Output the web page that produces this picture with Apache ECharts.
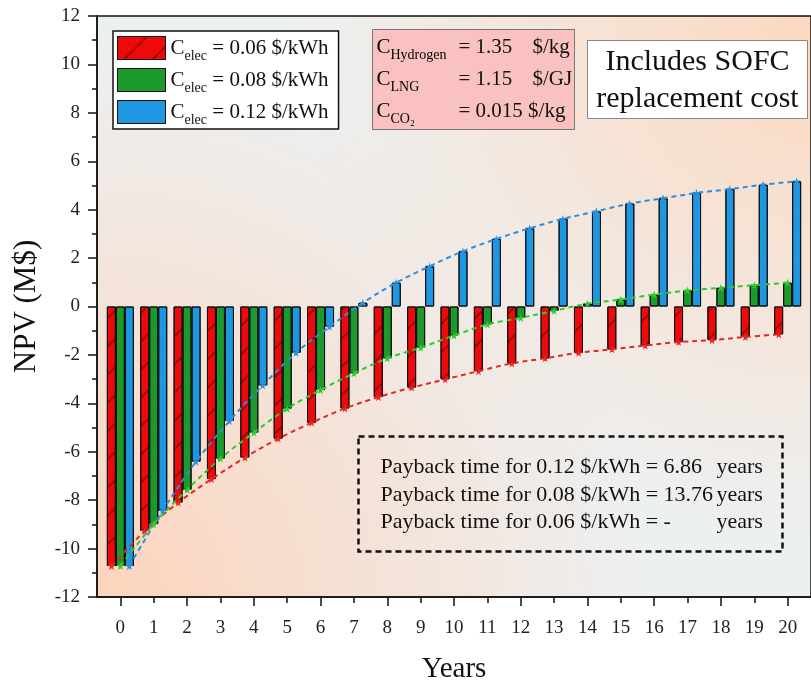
<!DOCTYPE html>
<html>
<head>
<meta charset="utf-8">
<script src="https://cdn.jsdelivr.net/npm/echarts@6/dist/echarts.min.js"></script>
<style>
  html, body { margin: 0; padding: 0; background: #fff; }
  #main { width: 811px; height: 689px; }
</style>
</head>
<body>
<div id="main"></div>
<script>
// 数据
const years = [0, 1, 2, 3, 4, 5, 6, 7, 8, 9, 10, 11, 12, 13, 14, 15, 16, 17, 18, 19, 20];
const oddYears = [1, 3, 5, 7, 9, 11, 13, 15, 17, 19];
const prices = ['0.06', '0.08', '0.12'];
const npv006 = [-10.72, -9.27, -8.10, -7.13, -6.24, -5.46, -4.80, -4.21, -3.74, -3.35, -3.01, -2.67, -2.35, -2.14, -1.91, -1.77, -1.61, -1.47, -1.39, -1.26, -1.15];
const npv008 = [-10.72, -8.99, -7.57, -6.28, -5.21, -4.22, -3.45, -2.76, -2.14, -1.70, -1.20, -0.74, -0.47, -0.18, 0.12, 0.29, 0.49, 0.66, 0.77, 0.88, 0.98];
const npv012 = [-10.72, -8.44, -6.41, -4.73, -3.26, -1.91, -0.84, 0.15, 0.98, 1.66, 2.28, 2.79, 3.23, 3.62, 3.93, 4.25, 4.47, 4.69, 4.85, 5.03, 5.17];
const yTicks = [-12, 12, 2];   // min, max, interval

const FONT = '"Liberation Serif", "DejaVu Serif", serif';
const colors = ['#ee0a0a', '#1c9a2c', '#1e98e2'];
const lineColors = ['#e62525', '#2ccc2c', '#2b8fe0'];
const STAR = 'path://M50,0 L61,35 L98,35 L68,57 L79,91 L50,70 L21,91 L32,57 L2,35 L39,35 Z';

// 绘图区
const G = { left: 97, top: 16, width: 724, height: 582 };
const xMin = -0.7, xMax = 20.7;
const barW = 9;
const barOff = barW / (G.width / (xMax - xMin));   // 柱宽换算成x轴单位

const chart = echarts.init(document.getElementById('main'));

const decals = [
    { symbol: 'rect', symbolSize: 1, dashArrayX: [1, 0], dashArrayY: [1.2, 18], rotation: -Math.PI / 4, color: 'rgba(70,0,0,0.45)' },
    { symbol: 'circle', symbolSize: 0.7, dashArrayX: [[1, 2]], dashArrayY: [1, 2], color: 'rgba(0,50,0,0.35)' },
    { symbol: 'rect', symbolSize: 0.6, dashArrayX: [[1, 2]], dashArrayY: [1, 2], color: 'rgba(0,30,110,0.3)' }
];

const seriesData = [npv006, npv008, npv012];
const barNames = prices.map(p => 'C_elec = ' + p + ' $/kWh');

const series = [];
seriesData.forEach((vals, i) => {
    series.push({
        name: barNames[i],
        type: 'bar',
        xAxisIndex: 0,
        yAxisIndex: 0,
        barWidth: barW,
        barGap: '0%',
        data: years.map((y, k) => [y, vals[k]]),
        itemStyle: {
            color: colors[i],
            borderColor: '#111',
            borderWidth: 1,
            decal: decals[i]
        },
        z: 2
    });
});
seriesData.forEach((vals, i) => {
    series.push({
        name: 'fit' + i,
        type: 'line',
        xAxisIndex: 0,
        yAxisIndex: 0,
        smooth: 0.35,
        data: years.map((y, k) => [y + (i - 1) * barOff, vals[k]]),
        symbol: STAR,
        symbolSize: 8,
        itemStyle: { color: lineColors[i] },
        lineStyle: { color: lineColors[i], width: 2, type: [5, 4] },
        z: 4
    });
});

// 下标用富文本
const rich = {
    c: { fontFamily: FONT, fontSize: 21, color: '#111', lineHeight: 23 },
    s: { fontFamily: FONT, fontSize: 14, color: '#111', lineHeight: 14, padding: [16, 0, 0, 0] },
    t: { fontFamily: FONT, fontSize: 21, color: '#111', lineHeight: 23 }
};
const txt = (x, y, text, size, extra) => ({
    type: 'text', x: x, y: y,
    style: Object.assign({ text: text, font: size + 'px ' + FONT, fill: '#111', verticalAlign: 'middle' }, extra || {})
});

const option = {
    animation: false,
    backgroundColor: '#fff',
    grid: [
        Object.assign({ show: true, borderColor: '#111', borderWidth: 1.5, backgroundColor: 'transparent', z: 1 }, G),
        Object.assign({ show: false }, G)
    ],
    legend: {
        data: barNames,
        orient: 'vertical',
        left: 113,
        top: 31,
        padding: [2, 10, 2, 4],
        itemWidth: 48,
        itemHeight: 23,
        itemGap: 2,
        icon: 'rect',
        backgroundColor: '#fff',
        borderColor: '#111',
        borderWidth: 1.5,
        itemStyle: { borderColor: '#111', borderWidth: 1 },
        formatter: name => '{c|C}{s|elec}{t| = ' + prices[barNames.indexOf(name)] + ' $/kWh}',
        textStyle: { rich: rich }
    },
    xAxis: [
        {
            type: 'value',
            gridIndex: 0,
            min: xMin,
            max: xMax,
            name: 'Years',
            nameLocation: 'middle',
            nameGap: 58,
            nameTextStyle: { fontFamily: FONT, fontSize: 29, color: '#111' },
            axisLine: { show: true, onZero: false, lineStyle: { color: '#111', width: 1.5 } },
            axisTick: { show: true, customValues: years.filter(y => y % 2 === 0), length: 9, lineStyle: { color: '#111', width: 1.5 } },
            axisLabel: { customValues: years, margin: 22, fontFamily: FONT, fontSize: 19, color: '#222' },
            splitLine: { show: false }
        },
        {
            type: 'value',
            gridIndex: 1,
            min: xMin,
            max: xMax,
            axisLine: { show: false, onZero: false },
            axisTick: { show: true, customValues: oddYears, length: 5, lineStyle: { color: '#111', width: 1.5 } },
            axisLabel: { show: false },
            splitLine: { show: false }
        }
    ],
    yAxis: [
        {
            type: 'value',
            gridIndex: 0,
            min: yTicks[0],
            max: yTicks[1],
            interval: yTicks[2],
            name: 'NPV (M$)',
            nameLocation: 'middle',
            nameGap: 55,
            nameTextStyle: { fontFamily: FONT, fontSize: 31, color: '#111' },
            axisLine: { show: true, onZero: false, lineStyle: { color: '#111', width: 1.5 } },
            axisTick: { show: true, length: 9, lineStyle: { color: '#111', width: 1.5 } },
            minorTick: { show: true, splitNumber: 2, length: 5, lineStyle: { color: '#111', width: 1.5 } },
            axisLabel: { margin: 17, fontFamily: FONT, fontSize: 19, color: '#222' },
            splitLine: { show: false }
        },
        { type: 'value', gridIndex: 1, min: yTicks[0], max: yTicks[1], show: false, axisLine: { onZero: false } }
    ],
    graphic: [
        // 背景渐变
        {
            type: 'group', left: G.left, top: G.top, z: -10,
            children: [
                { type: 'rect', shape: { x: 0, y: 0, width: G.width, height: G.height }, style: { fill: '#edf0f1' } },
                {
                    type: 'rect', shape: { x: 0, y: 0, width: G.width, height: G.height },
                    style: { fill: { type: 'radial', x: 0, y: 1, r: 0.95, colorStops: [
                        { offset: 0, color: 'rgba(252,212,188,1)' }, { offset: 1, color: 'rgba(252,212,188,0)' }] } }
                },
                {
                    type: 'rect', shape: { x: 0, y: 0, width: G.width, height: G.height },
                    style: { fill: { type: 'radial', x: 1, y: 0, r: 0.9, colorStops: [
                        { offset: 0, color: 'rgba(253,216,190,1)' }, { offset: 1, color: 'rgba(253,216,190,0)' }] } }
                }
            ]
        },
        // 参数框
        {
            type: 'group', left: 372, top: 29, z: 100,
            children: [
                { type: 'rect', shape: { x: 0, y: 0, width: 202, height: 100 }, style: { fill: '#f9c2c0', stroke: '#777', lineWidth: 1 } },
                { type: 'text', x: 4, y: 18, style: { text: '{c|C}{s|Hydrogen}', rich: rich, verticalAlign: 'middle' } },
                txt(86, 18, '= 1.35', 21),
                txt(160, 18, '$/kg', 21),
                { type: 'text', x: 4, y: 50, style: { text: '{c|C}{s|LNG}', rich: rich, verticalAlign: 'middle' } },
                txt(86, 50, '= 1.15', 21),
                txt(160, 50, '$/GJ', 21),
                { type: 'text', x: 4, y: 82, style: { text: '{c|C}{s|CO₂}', rich: rich, verticalAlign: 'middle' } },
                txt(86, 82, '= 0.015 $/kg', 21)
            ]
        },
        // 说明框
        {
            type: 'group', left: 587, top: 40, z: 100,
            children: [
                { type: 'rect', shape: { x: 0, y: 0, width: 220, height: 78 }, style: { fill: '#fff', stroke: '#888', lineWidth: 1 } },
                txt(110, 22, 'Includes SOFC', 30, { align: 'center' }),
                txt(110, 59, 'replacement cost', 30, { align: 'center' })
            ]
        },
        // 回收期
        {
            type: 'group', left: 356, top: 434, z: 100,
            children: [
                { type: 'rect', shape: { x: 0, y: 0, width: 424, height: 115 }, style: { fill: 'none', stroke: '#111', lineWidth: 2.5, lineDash: [6, 4] } },
                txt(22, 31, 'Payback time for 0.12 $/kWh = 6.86', 22),
                txt(358, 31, 'years', 22),
                txt(22, 59, 'Payback time for 0.08 $/kWh = 13.76', 22),
                txt(358, 59, 'years', 22),
                txt(22, 86, 'Payback time for 0.06 $/kWh = -', 22),
                txt(358, 86, 'years', 22)
            ]
        }
    ],
    series: series
};

chart.setOption(option);
</script>
</body>
</html>
